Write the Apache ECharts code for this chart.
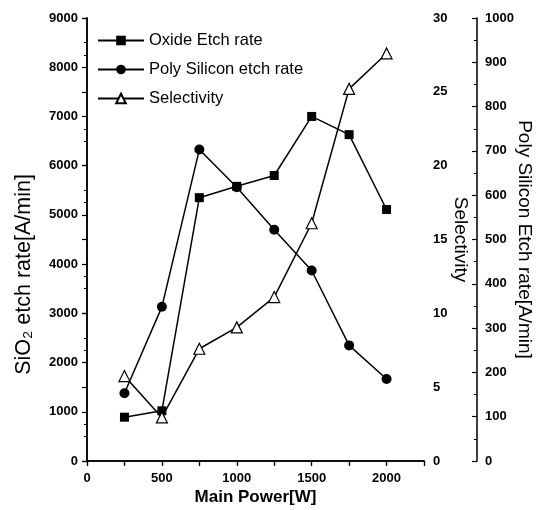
<!DOCTYPE html>
<html><head><meta charset="utf-8">
<script src="https://cdn.jsdelivr.net/npm/echarts@6/dist/echarts.min.js"></script>
<style>html,body{margin:0;padding:0;background:#fff}#c{width:545px;height:510px}</style>
</head><body><div id="c"></div>
<script>
var power = [250, 500, 750, 1000, 1250, 1500, 1750, 2000];
var oxideRate = [890, 1020, 5350, 5580, 5800, 7000, 6630, 5110];
var polyRate = [153, 348, 703, 618, 522, 430, 261, 185];
var selectivity = [5.75, 2.95, 7.6, 9.05, 11.1, 16.1, 25.2, 27.6];
var xTickLabels = ['0', '500', '1000', '1500', '2000'];

function pairs(xs, ys){ return xs.map(function(x,i){return [x, ys[i]];}); }
function plain(v){ return String(v); }

var lab = {fontFamily:'Liberation Sans', fontWeight:'bold', fontSize:13, color:'#000'};
var axLine = {show:true, lineStyle:{color:'#000', width:1.5}};
var chart = echarts.init(document.getElementById('c'));
chart.setOption({
  animation:false,
  backgroundColor:'#fff',
  grid:{left:87, right:121, top:18, bottom:49, outerBoundsMode:'none', containLabel:false},
  legend:{
    orient:'vertical', left:92, top:27, itemWidth:46, itemHeight:12, itemGap:12,
    textStyle:{fontFamily:'Liberation Sans', fontSize:16.5, color:'#000'},
    data:['Oxide Etch rate','Poly Silicon etch rate','Selectivity']
  },
  xAxis:[{
    type:'value', min:0, max:2250, interval:250, position:'bottom',
    name:'Main Power[W]', nameLocation:'middle', nameGap:28, nameMoveOverlap:false,
    nameTextStyle:{fontFamily:'Liberation Sans', fontWeight:'bold', fontSize:17, color:'#000'},
    axisLine:axLine, axisTick:{show:true, length:5, lineStyle:{color:'#000', width:1.2}},
    axisLabel:Object.assign({margin:11, formatter:function(v){return xTickLabels.indexOf(String(v))>=0 ? String(v) : '';}}, lab),
    splitLine:{show:false}
  },{
    type:'value', min:0, max:2250, interval:250, position:'top',
    axisLine:axLine, axisTick:{show:true, inside:true, length:4, lineStyle:{color:'#000', width:1.2}},
    axisLabel:{show:false}, splitLine:{show:false}
  }],
  yAxis:[{
    type:'value', min:0, max:9000, interval:1000, position:'left',
    name:'SiO\u2082 etch rate[A/min]', nameLocation:'middle', nameGap:52, nameMoveOverlap:false,
    nameTextStyle:{fontFamily:'Liberation Sans', fontSize:21.5, color:'#000', padding:[0,70,0,0]},
    axisLine:axLine, axisTick:{show:true, length:5, lineStyle:{color:'#000', width:1.2}},
    minorTick:{show:true, splitNumber:2, length:3, lineStyle:{color:'#000'}},
    axisLabel:Object.assign({margin:9, formatter:plain}, lab), splitLine:{show:false}
  },{
    type:'value', min:0, max:30, interval:5, position:'right',
    name:'Selectivity', nameLocation:'middle', nameGap:27, nameRotate:-90, nameMoveOverlap:false,
    nameTextStyle:{fontFamily:'Liberation Sans', fontSize:19, color:'#000'},
    axisLine:axLine, axisTick:{show:true, inside:true, length:5, lineStyle:{color:'#000', width:1.2}},
    minorTick:{show:true, splitNumber:2, length:3, lineStyle:{color:'#000'}},
    axisLabel:Object.assign({margin:9, formatter:plain}, lab), splitLine:{show:false}
  },{
    type:'value', min:0, max:1000, interval:100, position:'right', offset:53,
    name:'Poly Silicon Etch rate[A/min]', nameLocation:'middle', nameGap:38, nameRotate:-90, nameMoveOverlap:false,
    nameTextStyle:{fontFamily:'Liberation Sans', fontSize:19, color:'#000'},
    axisLine:axLine, axisTick:{show:true, inside:true, length:5, lineStyle:{color:'#000', width:1.2}},
    minorTick:{show:true, splitNumber:2, length:3, lineStyle:{color:'#000'}},
    axisLabel:Object.assign({margin:8, formatter:plain}, lab), splitLine:{show:false}
  }],
  series:[{
    name:'Oxide Etch rate', type:'line', xAxisIndex:0, yAxisIndex:0,
    data:pairs(power, oxideRate), symbol:'rect', symbolSize:9,
    lineStyle:{color:'#000', width:1.5}, itemStyle:{color:'#000'}
  },{
    name:'Poly Silicon etch rate', type:'line', xAxisIndex:0, yAxisIndex:2,
    data:pairs(power, polyRate), symbol:'circle', symbolSize:10,
    lineStyle:{color:'#000', width:1.5}, itemStyle:{color:'#000'}
  },{
    name:'Selectivity', type:'line', xAxisIndex:0, yAxisIndex:1,
    data:pairs(power, selectivity), symbol:'triangle', symbolSize:11,
    lineStyle:{color:'#000', width:1.5}, itemStyle:{color:'#fff', borderColor:'#000', borderWidth:1.2}
  }]
});
</script></body></html>
